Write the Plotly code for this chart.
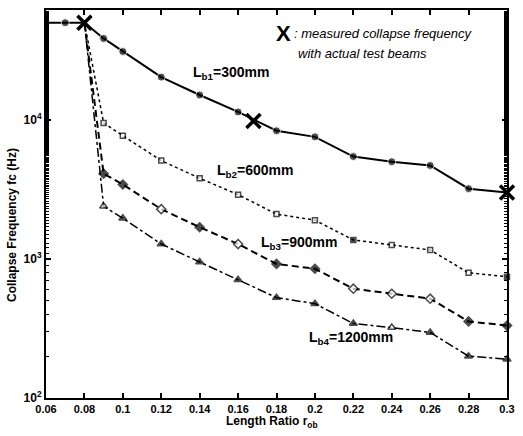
import plotly.graph_objects as go

# Length ratio r_ob at which the beam variants were computed
ratio = [0.08, 0.09, 0.10, 0.12, 0.14, 0.16, 0.18, 0.20, 0.22, 0.24, 0.26, 0.28, 0.30]

# Lb1 = 300 mm also has values at the short end of the range
ratio_lb1_head = [0.06, 0.07]
fc_lb1_head = [50000, 50000]
fc_lb1 = [50000, 38500, 31000, 20300, 15100, 11400, 8350, 7550, 5450, 5000, 4700, 3200, 3000]
fc_lb2 = [50000, 9500, 7700, 5100, 3800, 2900, 2100, 1900, 1370, 1260, 1160, 795, 745]
fc_lb3 = [50000, 4100, 3430, 2280, 1690, 1280, 920, 850, 611, 562, 518, 355, 332]
fc_lb4 = [50000, 2390, 1960, 1280, 950, 708, 527, 477, 343, 321, 296, 200, 190]

# Filled (True) / hollow (False) markers along each curve
fill_lb2 = [False, False, False, False, False, False, False, False, True, False, False, False, True]
fill_lb3 = [True, True, True, False, True, False, True, True, False, False, False, True, True]
fill_lb4 = [True, False, True, True, True, True, True, True, True, False, True, True, True]

# Measured collapse frequencies from the physical test beams
measured_ratio = [0.08, 0.168, 0.30]
measured_fc = [50000, 9800, 3000]

y_tickvals = [100, 1000, 10000]
y_ticktext = ["10<sup>2</sup>", "10<sup>3</sup>", "10<sup>4</sup>"]
x_tickvals = [0.06, 0.08, 0.10, 0.12, 0.14, 0.16, 0.18, 0.20, 0.22, 0.24, 0.26, 0.28, 0.30]
x_ticktext = ["0.06", "0.08", "0.1", "0.12", "0.14", "0.16", "0.18", "0.2", "0.22", "0.24", "0.26", "0.28", "0.3"]

FONT = "Liberation Sans, Arial, sans-serif"

# Plot-area geometry in pixels, used to place the free text
W, H = 523, 436
ML, MR, MT, MB = 46, 8, 9, 38
PW, PH = W - ML - MR, H - MT - MB


def px(xp, yp):
    """Pixel position -> paper coordinates."""
    return (xp - ML) / PW, 1 - (yp - MT) / PH


def fills(flags):
    return ["black" if f else "white" for f in flags]


fig = go.Figure()

# Lb1 : solid line, filled circles (no circle at 0.06, 0.08 and 0.3)
x1 = ratio_lb1_head + ratio
y1 = fc_lb1_head + fc_lb1
sizes1 = [0, 8, 0] + [8] * (len(ratio) - 2) + [0]
fig.add_trace(go.Scatter(
    x=x1, y=y1, mode="lines+markers",
    line=dict(color="black", width=2),
    marker=dict(symbol="circle", size=sizes1, color="black"),
    showlegend=False, cliponaxis=False))

# Lb2 : dotted line, small squares
sizes2 = [0] + [5] * (len(ratio) - 1)
fig.add_trace(go.Scatter(
    x=ratio, y=fc_lb2, mode="lines+markers",
    line=dict(color="black", width=1.5, dash="dot"),
    marker=dict(symbol="square", size=sizes2, color=fills(fill_lb2),
                line=dict(color="black", width=1.5)),
    showlegend=False, cliponaxis=False))

# Lb3 : dashed line, diamonds
sizes3 = [0] + [7] * (len(ratio) - 1)
fig.add_trace(go.Scatter(
    x=ratio, y=fc_lb3, mode="lines+markers",
    line=dict(color="black", width=2, dash="7px,4px"),
    marker=dict(symbol="diamond", size=sizes3, color=fills(fill_lb3),
                line=dict(color="black", width=1.5)),
    showlegend=False, cliponaxis=False))

# Lb4 : dash-dot line, triangles
sizes4 = [0] + [7] * (len(ratio) - 1)
fig.add_trace(go.Scatter(
    x=ratio, y=fc_lb4, mode="lines+markers",
    line=dict(color="black", width=1.5, dash="dashdot"),
    marker=dict(symbol="triangle-up", size=sizes4, color=fills(fill_lb4),
                line=dict(color="black", width=1.5)),
    showlegend=False, cliponaxis=False))

# Measured points
fig.add_trace(go.Scatter(
    x=measured_ratio, y=measured_fc, mode="markers",
    marker=dict(symbol="x-thin", size=14, line=dict(color="black", width=3.5)),
    showlegend=False, cliponaxis=False))

axis_common = dict(
    showline=True, linecolor="black", linewidth=2, mirror="ticks",
    ticks="inside", ticklen=5, tickwidth=1.5, tickcolor="black",
    showgrid=False, zeroline=False,
)

fig.update_xaxes(
    range=[0.06, 0.30], tickvals=x_tickvals, ticktext=x_ticktext,
    tickfont=dict(family=FONT, size=11, color="black", weight="bold"),
    **axis_common)
fig.update_yaxes(
    type="log", range=[2, 4.79], tickvals=y_tickvals, ticktext=y_ticktext,
    tickfont=dict(family=FONT, size=12, color="black", weight="bold"),
    minor=dict(ticks="inside", ticklen=3, tickwidth=1, tickcolor="black", showgrid=False),
    **axis_common)

# Curve labels
label_font = dict(family=FONT, size=14, color="black", weight="bold")
curve_labels = [
    ((194, 72), "L<sub>b1</sub>=300mm"),
    ((218, 170), "L<sub>b2</sub>=600mm"),
    ((263, 243), "L<sub>b3</sub>=900mm"),
    ((312, 338), "L<sub>b4</sub>=1200mm"),
]
for (xp, yp), txt in curve_labels:
    xx, yy = px(xp, yp)
    fig.add_annotation(xref="paper", yref="paper", x=xx, y=yy, text=txt,
                       showarrow=False, font=label_font,
                       xanchor="left", yanchor="middle")

# Key for the measured marker
xx, yy = px(278, 33)
fig.add_annotation(xref="paper", yref="paper", x=xx, y=yy,
                   text="X", showarrow=False, xanchor="left", yanchor="middle",
                   font=dict(family=FONT, size=22, color="black", weight="bold"))
xx, yy = px(296, 33)
fig.add_annotation(xref="paper", yref="paper", x=xx, y=yy,
                   text="<i>: measured collapse frequency</i>", showarrow=False,
                   xanchor="left", yanchor="middle",
                   font=dict(family=FONT, size=13, color="black"))
xx, yy = px(300, 53)
fig.add_annotation(xref="paper", yref="paper", x=xx, y=yy,
                   text="<i>with actual test beams</i>", showarrow=False,
                   xanchor="left", yanchor="middle",
                   font=dict(family=FONT, size=13, color="black"))

# Axis titles
xx, yy = px(276, 422)
fig.add_annotation(xref="paper", yref="paper", x=xx, y=yy,
                   text="Length Ratio r<sub>ob</sub>", showarrow=False,
                   xanchor="center", yanchor="middle",
                   font=dict(family=FONT, size=12, color="black", weight="bold"))
xx, yy = px(12, 225)
fig.add_annotation(xref="paper", yref="paper", x=xx, y=yy,
                   text="Collapse Frequency fc (Hz)", showarrow=False, textangle=-90,
                   xanchor="center", yanchor="middle",
                   font=dict(family=FONT, size=12, color="black", weight="bold"))

fig.update_layout(
    width=W, height=H,
    margin=dict(l=ML, r=MR, t=MT, b=MB),
    plot_bgcolor="white", paper_bgcolor="white",
)

fig.write_html("out.html")
